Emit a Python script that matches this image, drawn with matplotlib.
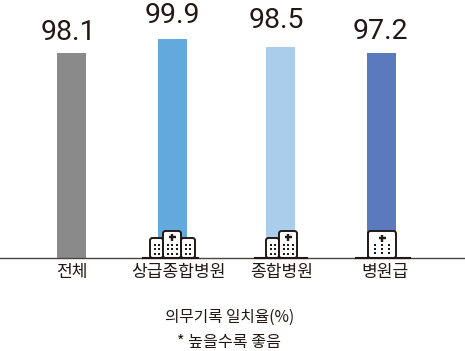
import matplotlib
matplotlib.use("Agg")
import matplotlib.pyplot as plt
from matplotlib.patches import FancyBboxPatch, Rectangle

plt.rcParams['font.family'] = ['Noto Sans CJK KR', 'DejaVu Sans']

categories = ["전체", "상급종합병원", "종합병원", "병원급"]
value_labels = ["98.1", "99.9", "98.5", "97.2"]
bar_heights = [205, 219, 211, 205]      # heights as drawn, the picture is not to scale with the labels
bar_colors = ["#8a8a8a", "#62a9dd", "#abcdec", "#5b7abd"]

bar_centers = [71.5, 172.5, 280.5, 381.5]
label_centers = [72, 178, 281.5, 385]
value_centers = [68.5, 172, 276.5, 380.5]
value_baselines = [218.5, 235, 230, 219]

W, H = 465, 351
BASE = 258
DARK = "#231815"

fig = plt.figure(figsize=(W / 100, H / 100), dpi=100)
ax = fig.add_axes([0, 0, 1, 1])
ax.set_xlim(0, W)
ax.set_ylim(BASE - H, BASE)     # y = 0 sits on the baseline, one unit is one pixel
ax.axis("off")


def building(x0, x1, top):     # one outlined block, open at the bottom
    box = FancyBboxPatch((x0, 0), x1 - x0, top, boxstyle="round,pad=0,rounding_size=2.5",
                         fc="white", ec=DARK, lw=1.4, zorder=4)
    ax.add_patch(box)


def windows(x_list, y_list):
    for x in x_list:
        for y in y_list:
            ax.add_patch(Rectangle((x - 1, y - 1), 2, 2, fc=DARK, ec="none", zorder=5))


def cross(x, y):
    ax.plot([x - 3.5, x + 3.5], [y, y], color=DARK, lw=1.7, zorder=5, solid_capstyle="butt")
    ax.plot([x, x], [y - 3.5, y + 3.5], color=DARK, lw=1.7, zorder=5, solid_capstyle="butt")


ax.bar(bar_centers, bar_heights, width=29, color=bar_colors, zorder=2)

for x, y, label in zip(value_centers, value_baselines, value_labels):
    ax.text(x, y, label, ha="center", va="baseline", fontsize=20.5, color=DARK,
            family="Roboto", zorder=6)

for x, cat in zip(label_centers, categories):
    ax.text(x, -13.5, cat, ha="center", va="center", fontsize=12.3, color=DARK)

ax.text(230, -59.5, "의무기록 일치율(%)", ha="center", va="center", fontsize=11.3, color=DARK)
ax.text(229, -84.5, "* 높을수록 좋음", ha="center", va="center", fontsize=11.6, color=DARK)

# baseline, heavier under the hospital icons
ax.plot([0, W], [0, 0], color="#4a4543", lw=1.0, zorder=3)
ax.plot([143, 198], [0, 0], color=DARK, lw=1.5, zorder=6)
ax.plot([255, 307], [0, 0], color=DARK, lw=1.5, zorder=6)
ax.plot([356, 410], [0, 0], color=DARK, lw=1.5, zorder=6)

# icon: large hospital
building(150, 163, 20)
building(181, 195, 20)
building(163, 181, 27)
cross(172, 21)
windows([154.5, 159], [4.5, 9, 13.5])
windows([185.5, 190], [4.5, 9, 13.5])
windows([167.5, 172, 176.5], [4.5, 9, 13.5])

# icon: general hospital
building(266, 279, 20)
building(279, 297, 27)
cross(288, 21)
windows([270.5, 275], [4.5, 9, 13.5])
windows([283.5, 288, 292.5], [4.5, 9, 13.5])

# icon: hospital
building(368, 396, 27)
cross(382, 20)
windows([375, 382, 389], [5, 9, 13])

fig.savefig("out.png", dpi=100)
